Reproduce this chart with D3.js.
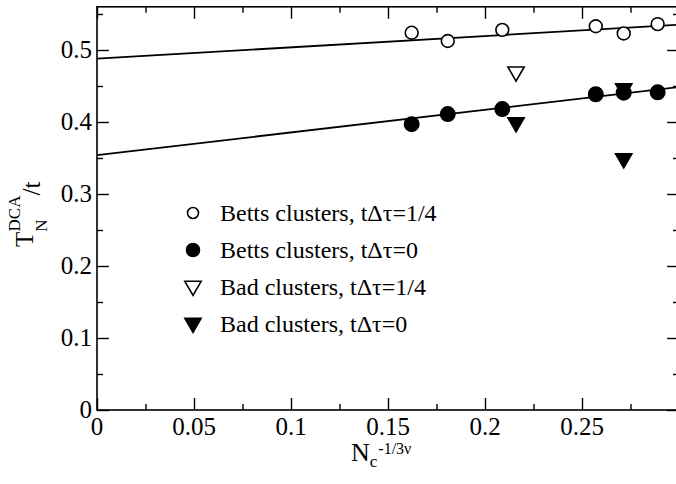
<!DOCTYPE html>
<html>
<head>
<meta charset="utf-8">
<script src="https://cdn.jsdelivr.net/npm/d3@7"></script>
<style>
body {margin:0; background:#fff;}
</style>
</head>
<body>
<svg id="chart" width="676" height="484"></svg>
<script>
// data
var betts_x=[0.1622,0.1808,0.2089,0.2571,0.2715,0.2890];
var betts_q_y=[0.524,0.5125,0.528,0.533,0.523,0.536]; // t*dtau=1/4
var betts_0_y=[0.397,0.411,0.418,0.4385,0.4407,0.4412]; // t*dtau=0
var bad_q_x=[0.216];
var bad_q_y=[0.4685];
var bad_0_x=[0.216,0.2715,0.2715];
var bad_0_y=[0.398,0.445,0.348];
var fit_intercept=[0.488,0.354];
var fit_slope=[0.157,0.315];
var legend_labels=['Betts clusters, t\u0394\u03c4=1/4','Betts clusters, t\u0394\u03c4=0','Bad clusters, t\u0394\u03c4=1/4','Bad clusters, t\u0394\u03c4=0'];
var x_ticks=[0,0.05,0.1,0.15,0.2,0.25];
var y_ticks=[0,0.1,0.2,0.3,0.4,0.5];

var serif='"Liberation Serif","Times New Roman","DejaVu Serif",serif';
var svg=d3.select('#chart').style('font-family',serif);
var padding_left=97, padding_top=6.8, plot_right=679, plot_bottom=410;

var xscale=d3.scaleLinear().domain([0,0.3]).range([padding_left,plot_right]);
var yscale=d3.scaleLinear().domain([0,0.56]).range([plot_bottom,padding_top]);

var gg=svg.append('g');

// fit lines (clipped to plot frame)
svg.append('clipPath').attr('id','clip')
    .append('rect')
    .attr('x',padding_left).attr('y',padding_top)
    .attr('width',plot_right-padding_left).attr('height',plot_bottom-padding_top);
var line=d3.line()
    .x(function(d) {return xscale(d.x);})
    .y(function(d) {return yscale(d.y);});
for (var k=0; k<fit_intercept.length; k++) {
    var data0=[];
    var xd=xscale.domain();
    data0.push({x:xd[0],y:fit_intercept[k]+fit_slope[k]*xd[0]});
    data0.push({x:xd[1],y:fit_intercept[k]+fit_slope[k]*xd[1]});
    gg.append('path')
        .attr('d',line(data0))
        .attr('clip-path','url(#clip)')
        .style('fill','none').style('stroke','#000').style('stroke-width',1.8);
}

// axes: ticks inward on all four sides
function add_axis(axis,transform) {
    var a=gg.append('g').attr('transform',transform).call(axis);
    a.select('.domain').remove();
    a.selectAll('line').style('stroke','#000').style('stroke-width',1.4);
    return a;
}
var x_minor=d3.range(0.025,0.3,0.05);
var y_minor=d3.range(0.05,0.56,0.1);
add_axis(d3.axisBottom(xscale).tickValues(x_ticks).tickSize(-12).tickFormat(''),'translate(0,'+plot_bottom+')');
add_axis(d3.axisBottom(xscale).tickValues(x_minor).tickSize(-6).tickFormat(''),'translate(0,'+plot_bottom+')');
add_axis(d3.axisTop(xscale).tickValues(x_ticks).tickSize(-12).tickFormat(''),'translate(0,'+padding_top+')');
add_axis(d3.axisTop(xscale).tickValues(x_minor).tickSize(-6).tickFormat(''),'translate(0,'+padding_top+')');
add_axis(d3.axisLeft(yscale).tickValues(y_ticks).tickSize(-12).tickFormat(''),'translate('+padding_left+',0)');
add_axis(d3.axisLeft(yscale).tickValues(y_minor).tickSize(-6).tickFormat(''),'translate('+padding_left+',0)');
add_axis(d3.axisRight(yscale).tickValues(y_ticks).tickSize(-12).tickFormat(''),'translate('+plot_right+',0)');
add_axis(d3.axisRight(yscale).tickValues(y_minor).tickSize(-6).tickFormat(''),'translate('+plot_right+',0)');

// frame
gg.append('rect')
    .attr('x',padding_left).attr('y',padding_top)
    .attr('width',plot_right-padding_left).attr('height',plot_bottom-padding_top)
    .style('fill','none').style('stroke','#000').style('stroke-width',1.6);

// tick labels
var fmt=function(d) {return d===0 ? '0' : String(+d.toFixed(2));};
gg.selectAll('.xlab').data(x_ticks).enter().append('text')
    .attr('x',function(d) {return xscale(d);})
    .attr('y',plot_bottom+25)
    .style('font-family',serif)
    .style('text-anchor','middle').style('font-size','25px')
    .text(fmt);
gg.selectAll('.ylab').data(y_ticks).enter().append('text')
    .attr('x',padding_left-5)
    .attr('y',function(d) {return yscale(d)+8;})
    .style('font-family',serif)
    .style('text-anchor','end').style('font-size','25px')
    .text(fmt);

// axis titles
var xt=gg.append('text')
    .attr('transform','translate(351,461)')
    .style('font-family',serif)
    .style('font-size','26px');
xt.append('tspan').text('N');
xt.append('tspan').attr('dy',6).style('font-size','17px').text('c');
xt.append('tspan').attr('dx',1).attr('dy',-13).style('font-size','16px').text('-1/3\u03bd');

var yt=gg.append('text')
    .attr('transform','translate(33,247) rotate(-90)')
    .style('font-family',serif)
    .style('font-size','25px');
yt.append('tspan').text('T');
yt.append('tspan').attr('dy',14).style('font-size','17px').text('N');
yt.append('tspan').attr('dx',-12).attr('dy',-27).style('font-size','17px').text('DCA');
yt.append('tspan').attr('dy',20).text('/t');

// markers
var tri=d3.symbol().type(d3.symbolTriangle).size(115);
function circles(xs,ys,filled,r) {
    for (var i=0; i<xs.length; i++) {
        gg.append('circle')
            .attr('cx',xscale(xs[i])).attr('cy',yscale(ys[i])).attr('r',r)
            .style('fill',filled ? '#000' : '#fff')
            .style('stroke','#000').style('stroke-width',1.6);
    }
}
function triangles(xs,ys,filled) {
    for (var i=0; i<xs.length; i++) {
        gg.append('path')
            .attr('d',tri())
            .attr('transform','translate('+xscale(xs[i])+','+(yscale(ys[i])-1)+') rotate(180)')
            .style('fill',filled ? '#000' : '#fff')
            .style('stroke','#000').style('stroke-width',1.6);
    }
}
triangles(bad_0_x,bad_0_y,true);
circles(betts_x,betts_q_y,false,6.4);
circles(betts_x,betts_0_y,true,7.2);
triangles(bad_q_x,bad_q_y,false);

// legend
var legend_x=193, legend_y0=213, legend_dy=37;
for (var j=0; j<legend_labels.length; j++) {
    var cy=legend_y0+j*legend_dy;
    if (j<2) {
        gg.append('circle').attr('cx',legend_x).attr('cy',cy).attr('r',j==0 ? 5.5 : 6.5)
            .style('fill',j==1 ? '#000' : '#fff')
            .style('stroke','#000').style('stroke-width',1.6);
    }
    else {
        gg.append('path').attr('d',tri())
            .attr('transform','translate('+legend_x+','+(cy-1)+') rotate(180)')
            .style('fill',j==3 ? '#000' : '#fff')
            .style('stroke','#000').style('stroke-width',1.6);
    }
    gg.append('text')
        .attr('x',220).attr('y',cy+8)
        .style('font-family',serif)
        .style('font-size','24px')
        .text(legend_labels[j]);
}
</script>
</body>
</html>
